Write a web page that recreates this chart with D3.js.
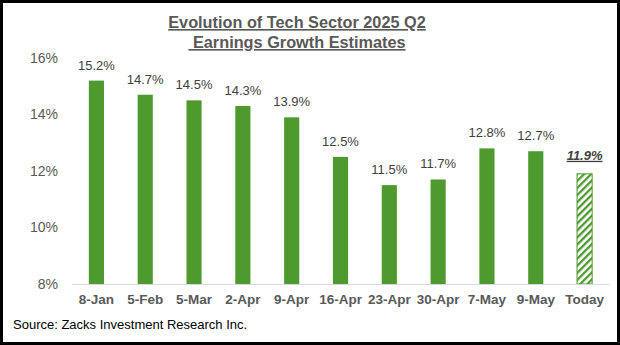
<!DOCTYPE html>
<html><head><meta charset="utf-8">
<script src="https://cdn.jsdelivr.net/npm/d3@7"></script>
<style>
html,body{margin:0;padding:0;background:#fff;}
svg{display:block;font-family:"Liberation Sans",Arial,sans-serif;}
</style></head>
<body>
<svg id="chart" width="620" height="345"></svg>
<script>
const categories = ["8-Jan","5-Feb","5-Mar","2-Apr","9-Apr","16-Apr","23-Apr","30-Apr","7-May","9-May","Today"];
const values = [15.2,14.7,14.5,14.3,13.9,12.5,11.5,11.7,12.8,12.7,11.9];
const yTicks = [8,10,12,14,16];
const titleLines = ["Evolution of Tech Sector 2025 Q2"," Earnings Growth Estimates"];
const sourceText = "Source: Zacks Investment Research Inc.";

const svg = d3.select("#chart");
const green = "#4e9a2f";

// border
svg.append("rect").attr("x",1.5).attr("y",1.5).attr("width",617).attr("height",342)
  .attr("fill","#fff").attr("stroke","#000").attr("stroke-width",3);

const defs = svg.append("defs");
const pat = defs.append("pattern").attr("id","hatch").attr("patternUnits","userSpaceOnUse")
  .attr("width",5).attr("height",5).attr("patternTransform","rotate(45)");
pat.append("rect").attr("width",5).attr("height",5).attr("fill","#fff");
pat.append("rect").attr("x",0).attr("y",0).attr("width",2.3).attr("height",5).attr("fill",green);

const x = d3.scaleBand().domain(categories).range([72,609]).paddingInner(0.69).paddingOuter(0.345);
const y = d3.scaleLinear().domain([8,16]).range([284,58]);

// title
titleLines.forEach((t,i)=>{
  svg.append("text").attr("x",297).attr("y",28+i*20).attr("text-anchor","middle")
    .attr("font-size",16.3).attr("font-weight","bold").attr("fill","#595959")
    .attr("text-decoration","underline")
    .style("white-space","pre")
    .text(t);
});

// y axis labels
const yAxis = d3.axisLeft(y).tickValues(yTicks).tickFormat(d=>d+"%").tickSize(0).tickPadding(14);
const gy = svg.append("g").attr("transform","translate(72,0)").call(yAxis);
gy.select(".domain").remove();
gy.selectAll("text").attr("font-size",14).attr("fill","#595959")
  .attr("font-family","Liberation Sans, Arial, sans-serif");

// x axis
const xAxis = d3.axisBottom(x).tickSize(0).tickPadding(10);
const gx = svg.append("g").attr("transform","translate(0,284)").call(xAxis);
gx.select(".domain").attr("stroke","#d9d9d9").attr("stroke-width",1.2);
gx.selectAll("text").attr("font-size",13.5).attr("font-weight","bold").attr("fill","#595959")
  .attr("font-family","Liberation Sans, Arial, sans-serif");

// bars
const data = categories.map((c,i)=>({c, v: values[i], today: c==="Today"}));
svg.append("g").selectAll("rect").data(data).join("rect")
  .attr("x",d=>x(d.c)).attr("width",x.bandwidth())
  .attr("y",d=>y(d.v)).attr("height",d=>y(8)-y(d.v))
  .attr("fill",d=>d.today?"url(#hatch)":green)
  .attr("stroke",d=>d.today?green:"none").attr("stroke-width",1);

svg.append("line").attr("x1",72).attr("x2",609).attr("y1",284.5).attr("y2",284.5)
  .attr("stroke","#d9d9d9").attr("stroke-width",1.2);

// value labels
svg.append("g").selectAll("text").data(data).join("text")
  .attr("x",d=>x(d.c)+x.bandwidth()/2).attr("y",d=>y(d.v)-(d.today?14:11))
  .attr("text-anchor","middle").attr("font-size",13)
  .attr("fill","#404040")
  .attr("font-weight",d=>d.today?"bold":"normal")
  .attr("font-style",d=>d.today?"italic":"normal")
  .attr("text-decoration",d=>d.today?"underline":"none")
  .text(d=>d.v.toFixed(1)+"%");

// source
svg.append("text").attr("x",13).attr("y",329).attr("font-size",13).attr("fill","#000")
  .text(sourceText);
</script>
</body></html>
